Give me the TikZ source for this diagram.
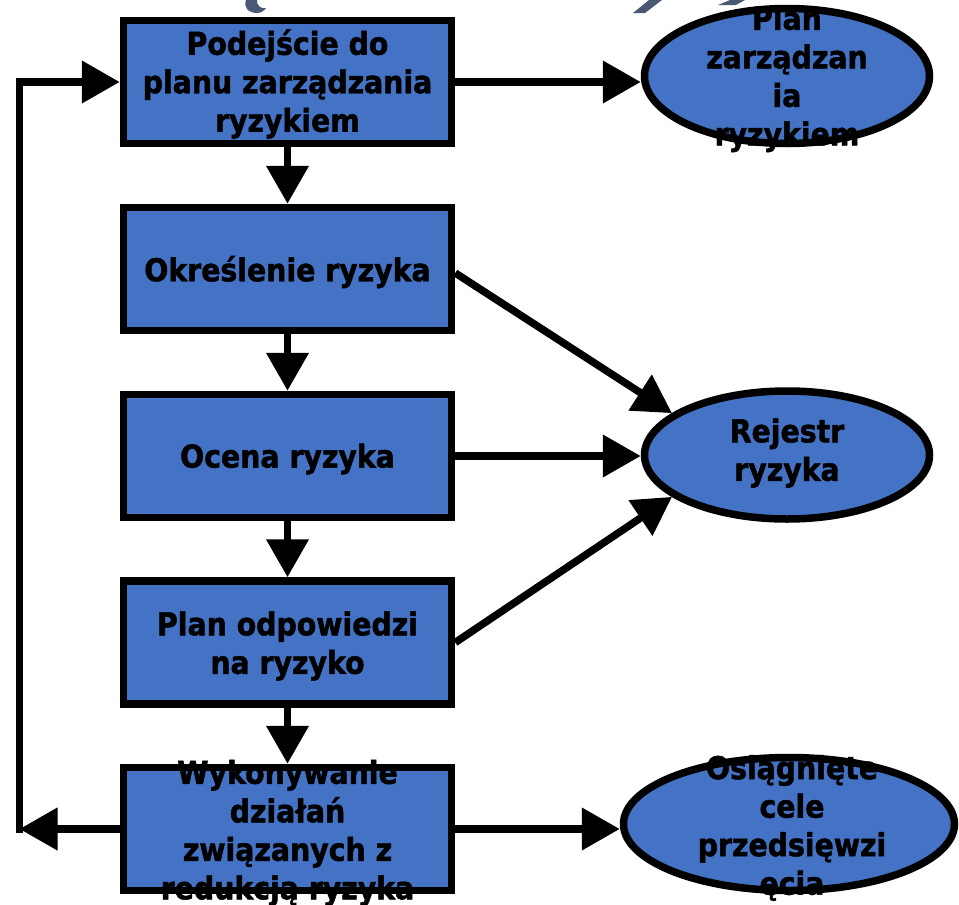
\documentclass[tikz,border=0pt]{standalone}
\usepackage{fontspec}
\setmainfont{DejaVu Sans}[FakeStretch=0.9, BoldFeatures={FakeBold=1.5}]
\usetikzlibrary{shapes.geometric,arrows.meta}
\definecolor{boxblue}{RGB}{68,114,196}
\definecolor{slate}{RGB}{75,88,115}
\tikzset{
  stepbox/.style={draw=black, line width=7.5pt, fill=boxblue, rectangle, inner sep=0pt,
    minimum width=328pt, minimum height=123pt},
  resbox/.style={draw=black, line width=7.5pt, fill=boxblue, ellipse, inner sep=0pt},
  lbl/.style={font=\bfseries\fontsize{31.5}{38.5}\selectfont, align=center, inner sep=0pt, text=black},
  arr/.style={line width=7.5pt, -{Triangle[length=38pt,width=41pt]}}
}
\begin{document}
\begin{tikzpicture}[x=1pt,y=-1pt]
\useasboundingbox (0,0) rectangle (959,905);
% title fragments (cut off at the top)
\fill[slate] (246,0) .. controls (243,8) and (249,13) .. (257,13) .. controls (261,13) and (264,11) .. (266,8) .. controls (262,9) and (257,7) .. (257,0) -- cycle;
\fill[slate] (649,0) -- (662,0) -- (645,13) -- (633,13) -- cycle;
\fill[slate] (730,0) -- (745,0) -- (736,5) -- (718,5) -- cycle;
% boxes
\node[stepbox] (b1) at (287.5,82) {};
\node[stepbox] (b2) at (287.5,269) {};
\node[stepbox] (b3) at (287.5,456) {};
\node[stepbox] (b4) at (287.5,642.5) {};
\node[stepbox] (b5) at (287.5,829) {};
% ellipses
\node[resbox, minimum width=285pt, minimum height=135pt] (e1) at (787,76) {};
\node[resbox, minimum width=285pt, minimum height=128pt] (e2) at (787,455) {};
\node[resbox, minimum width=331pt, minimum height=133pt] (e3) at (789,824) {};
% texts
\node[lbl] (t1) at (287.5,84) {Podejście do\\planu zarządzania\\ryzykiem};
\node[lbl] (t2) at (287.5,272) {Określenie ryzyka};
\node[lbl] (t3) at (287.5,459) {Ocena ryzyka};
\node[lbl] (t4) at (287.5,646) {Plan odpowiedzi\\na ryzyko};
\node[lbl] (t5) at (287.5,833) {Wykonywanie\\działań\\związanych z\\redukcją ryzyka};
\node[lbl] (te1) at (787,79) {Plan\\zarządzan\\ia\\ryzykiem};
\node[lbl] (te2) at (787,453) {Rejestr\\ryzyka};
\node[lbl] (te3) at (792,828) {Osiągnięte\\cele\\przedsięwzi\\ęcia};
% connectors
\draw[arr] (b1) -- (b2);
\draw[arr] (b2) -- (b3);
\draw[arr] (b3) -- (b4);
\draw[arr] (b4) -- (b5);
\draw[arr] (b1.east) -- (b1.east -| e1.west);
\draw[arr] ([yshift=-4pt]b2.east) -- (e2.160);
\draw[arr] (b3.east) -- (b3.east -| e2.west);
\draw[arr] (b4.east) -- (e2.200);
\draw[arr] (b5.east) -- (b5.east -| e3.west);
\coordinate (fb) at (19.5,829);
\draw[arr] (b5.west) -- (fb);
\draw[arr] ([yshift=-3.5pt]fb) |- (b1.west);
\end{tikzpicture}
\end{document}
